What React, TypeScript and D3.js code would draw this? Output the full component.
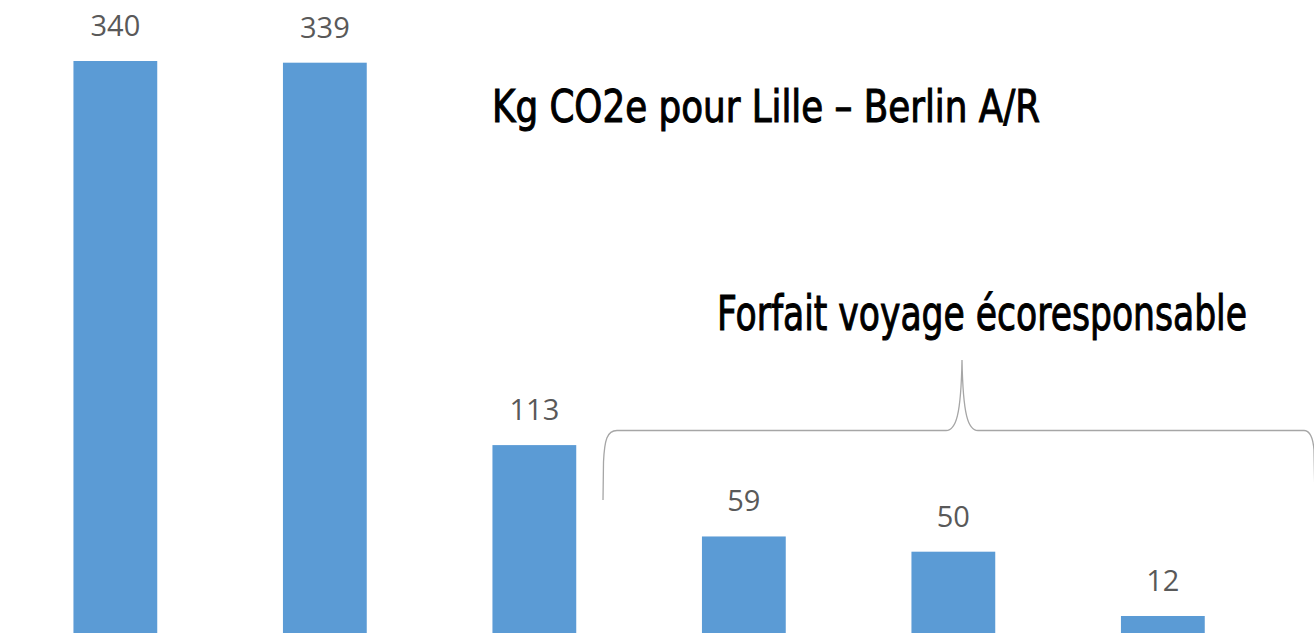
import React from "react";
import * as d3 from "d3";

const categories = ["c1", "c2", "c3", "c4", "c5", "c6"];
const values = [340, 339, 113, 59, 50, 12];
const labels = ["340", "339", "113", "59", "50", "12"];
const titleText = "Kg CO2e pour Lille – Berlin A/R";
const braceText = "Forfait voyage écoresponsable";

const W = 1314;
const H = 633;

export default function App() {
  const x = d3
    .scaleBand<string>()
    .domain(categories)
    .range([10.6, 1267.6])
    .paddingInner(0.6)
    .paddingOuter(0.3);
  const y = d3.scaleLinear().domain([0, 340]).range([636.3, 61]);

  const bracePath =
    "M603,500 L603.5,462 C604.5,440 607,430.5 617,430.5 L946,430.5 C956,430.5 961,415 962,360 C963,415 968,430.5 978,430.5 L1304,430.5 C1310,430.5 1313,438 1314,450 L1315,500";

  const condensed = "'DejaVu Sans Condensed', 'Liberation Sans Narrow', sans-serif";

  return (
    <svg
      width={W}
      height={H}
      style={{ position: "absolute", left: 0, top: 0, background: "#fff", overflow: "hidden" }}
    >
      <rect x={0} y={0} width={W} height={H} fill="#fff" />
      {categories.map((c, i) => (
        <g key={c}>
          <rect
            x={x(c)}
            y={y(values[i])}
            width={x.bandwidth()}
            height={y(0) - y(values[i])}
            fill="#5b9bd5"
          />
          <text
            x={(x(c) as number) + x.bandwidth() / 2}
            y={y(values[i]) - 25}
            textAnchor="middle"
            fontFamily="'Open Sans', 'Noto Sans', sans-serif"
            fontSize={29}
            fill="#595959"
          >
            {labels[i]}
          </text>
        </g>
      ))}
      <text
        x={492}
        y={122}
        fontFamily={condensed}
        fontStretch="condensed"
        fontSize={44}
        fill="#000"
        stroke="#000"
        strokeWidth={1}
        textLength={548}
        lengthAdjust="spacingAndGlyphs"
      >
        {titleText}
      </text>
      <text
        x={717}
        y={330}
        fontFamily={condensed}
        fontStretch="condensed"
        fontSize={48}
        fill="#000"
        stroke="#000"
        strokeWidth={1}
        textLength={530}
        lengthAdjust="spacingAndGlyphs"
      >
        {braceText}
      </text>
      <path d={bracePath} fill="none" stroke="#a6a6a6" strokeWidth={1.3} />
    </svg>
  );
}
